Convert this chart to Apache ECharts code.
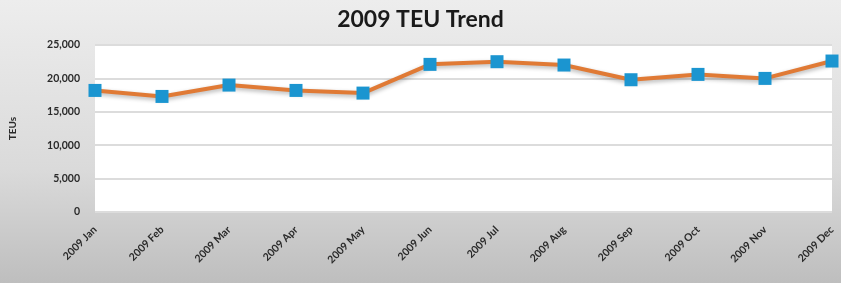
<!DOCTYPE html>
<html><head><meta charset="utf-8">
<script src="https://cdn.jsdelivr.net/npm/echarts@6/dist/echarts.min.js"></script>
<style>html,body{margin:0;padding:0;}#c{width:841px;height:283px;}</style>
</head><body><div id="c"></div>
<script>
var categories = ['2009 Jan','2009 Feb','2009 Mar','2009 Apr','2009 May','2009 Jun','2009 Jul','2009 Aug','2009 Sep','2009 Oct','2009 Nov','2009 Dec'];
var teus = [18200, 17300, 19000, 18200, 17800, 22100, 22500, 22000, 19800, 20600, 20000, 22600];
var titleText = '2009 TEU Trend';
var yName = 'TEUs';

var chart = echarts.init(document.getElementById('c'), null, {renderer:'canvas'});
chart.setOption({
  animation:false,
  backgroundColor:{type:'linear',x:0,y:0,x2:0,y2:1,colorStops:[{offset:0,color:'#ededed'},{offset:0.6,color:'#dadada'},{offset:1,color:'#bebebe'}]},
  title:{text:titleText,left:'center',top:3,textStyle:{fontFamily:'Lato',fontWeight:'bold',fontSize:23,color:'#1a1a1a'}},
  grid:{left:95,right:9,top:45,bottom:71,show:true,backgroundColor:'#ffffff',borderWidth:0},
  xAxis:{type:'category',data:categories,boundaryGap:false,
    axisLine:{show:false},axisTick:{show:false},
    axisLabel:{rotate:45,fontSize:10.5,fontWeight:'bold',color:'#2a2a2a',fontFamily:'Lato',margin:16,interval:0}},
  yAxis:{type:'value',min:0,max:25000,interval:5000,name:yName,nameLocation:'middle',nameGap:77,nameRotate:90,
    nameTextStyle:{fontSize:10,fontWeight:'bold',color:'#2a2a2a',fontFamily:'Lato'},
    axisLine:{show:false},axisTick:{show:false},
    axisLabel:{fontSize:10.5,fontWeight:'bold',color:'#2a2a2a',fontFamily:'Lato',margin:15,
      formatter:function(v){return v.toLocaleString('en-US');}},
    splitLine:{lineStyle:{color:'#dcdcdc',width:2}}},
  series:[{type:'line',data:teus,symbol:'rect',symbolSize:13,
    lineStyle:{color:'#e07a35',width:4,shadowColor:'rgba(0,0,0,0.3)',shadowBlur:4,shadowOffsetY:2},
    itemStyle:{color:'#1b95d0'}}]
});
</script></body></html>
